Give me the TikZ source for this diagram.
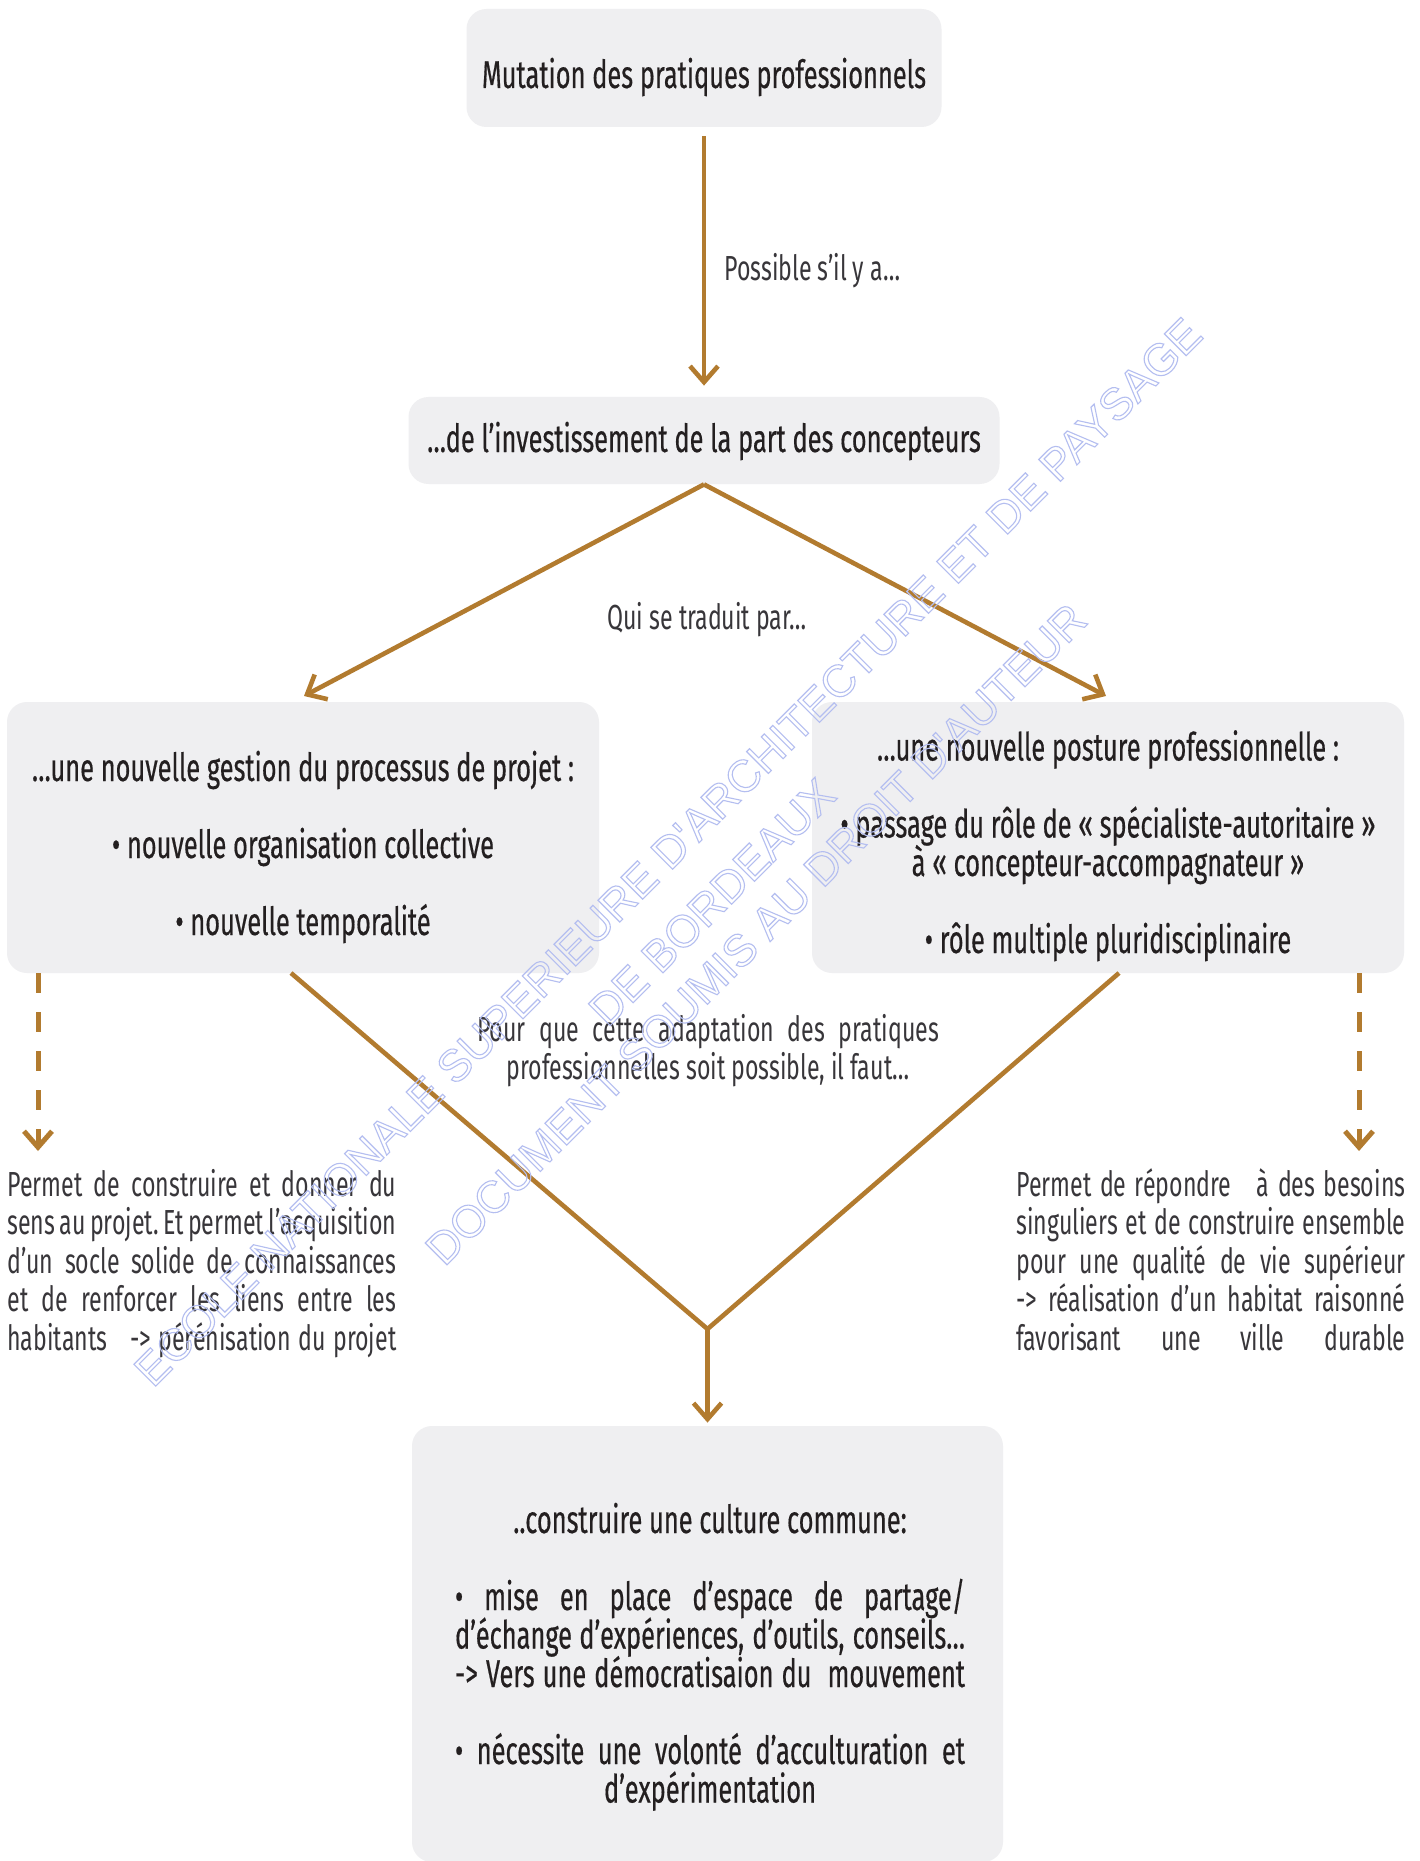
\documentclass[tikz,border=0pt]{standalone}
\usepackage{fontspec}
\setmainfont{Fira Sans}[FakeStretch=0.665]
\newfontfamily\boxfont{Fira Sans}[FakeStretch=0.655,FakeBold=0.4]
\newfontfamily\wmfont{Liberation Sans}
\usetikzlibrary{arrows.meta}
\definecolor{gold}{HTML}{B27B2F}
\definecolor{boxgray}{HTML}{EFEFF1}
\definecolor{ink}{HTML}{231F20}
\definecolor{inklight}{HTML}{38363A}
\definecolor{wm}{HTML}{B4BEF0}
\newlength\blockw
\newcommand\blk[2]{\vtop{\setlength\blockw{#1}\baselineskip=19.25pt\lineskiplimit=-\maxdimen\lineskip=0pt\relax#2}}
\newcommand\fl[1]{\hbox to \blockw{\spaceskip=0.1em plus 1fil\xspaceskip=\spaceskip\relax#1}}
\newcommand\cl[1]{\hbox to \blockw{\hfil#1\hfil}}
\newcommand\el{\hbox{}}
\newcommand\outlined[1]{\special{pdf:literal direct 1 Tr 0.55 w}#1\special{pdf:literal direct 0 Tr}}
\begin{document}
\begin{tikzpicture}[x=0.5pt,y=-0.5pt,
  box/.style={fill=boxgray, rounded corners=10pt, inner sep=0pt},
  boxtext/.style={font=\boxfont\fontsize{19.4}{19.25}\selectfont, text=ink, inner sep=0pt},
  sidetext/.style={font=\fontsize{17.4}{19.25}\selectfont, text=inklight, inner sep=0pt},
  conn/.style={draw=gold, line width=2.3pt},
  arr/.style={conn, -{Straight Barb[length=8pt,width=14pt]}},
  dasharr/.style={arr, line width=2.5pt, dash pattern=on 9.75pt off 9.75pt},
  wmark/.style={font=\wmfont\fontsize{22.4}{22.4}\selectfont, text=wm, rotate=45, inner sep=0pt}
]
\useasboundingbox (0,0) rectangle (1419,1861);
\fill[white] (0,0) rectangle (1419,1861);
% boxes
\node[box, minimum width=237.5pt, minimum height=59pt] (b1) at (704,68) {};
\node[box, minimum width=295.5pt, minimum height=43.5pt] (b2) at (704,440.5) {};
\node[box, minimum width=296pt, minimum height=135.5pt] (bl) at (303,837.5) {};
\node[box, minimum width=296pt, minimum height=135.5pt] (br) at (1108,837.5) {};
\node[box, minimum width=295.5pt, minimum height=218pt] (bb) at (707.5,1644) {};
% box texts
\node[boxtext, anchor=base] (b1t) at (704,88) {Mutation des pratiques professionnels};
\node[boxtext, anchor=base] (b2t) at (704,452) {…de l’investissement de la part des concepteurs};
\node[boxtext, anchor=base] (blt) at (303,781) {\blk{296pt}{\cl{…une nouvelle gestion du processus de projet :}\el\cl{• nouvelle organisation collective}\el\cl{• nouvelle temporalité}}};
\node[boxtext, anchor=base] (brt) at (1108,760.5) {\blk{296pt}{\cl{…une nouvelle posture professionnelle :}\el\cl{• passage du rôle de « spécialiste-autoritaire »}\cl{à « concepteur-accompagnateur »}\el\cl{• rôle multiple pluridisciplinaire}}};
\node[boxtext, anchor=base] (bbt) at (710,1533) {\blk{255pt}{\cl{..construire une culture commune:}\el\fl{• mise en place d’espace de partage/}\fl{d’échange d’expériences, d’outils, conseils…}\fl{-> Vers une démocratisaion du\ \ mouvement}\el\fl{• nécessite une volonté d’acculturation et}\cl{d’expérimentation}}};
% labels
\node[sidetext, anchor=base west] (lpos) at (724,281) {Possible s’il y a…};
\node[sidetext, anchor=base] (lqui) at (707,629) {Qui se traduit par…};
\node[sidetext, anchor=base] (lpour) at (708,1041) {\blk{231pt}{\fl{Pour que cette adaptation des pratiques}\cl{professionnelles soit possible, il faut…}}};
\node[sidetext, anchor=base west] (sl) at (7,1196) {\blk{194.5pt}{\fl{Permet de construire et donner du}\fl{sens au projet. Et permet l’acquisition}\fl{d’un socle solide de connaissances}\fl{et de renforcer les liens entre les}\fl{habitants\ \ \ -> pérénisation du projet}}};
\node[sidetext, anchor=base west] (sr) at (1016,1196) {\blk{194.5pt}{\fl{Permet de répondre\ \ \ à des besoins}\fl{singuliers et de construire ensemble}\fl{pour une qualité de vie supérieur}\fl{-> réalisation d’un habitat raisonné}\fl{favorisant une ville durable}}};
% connectors
\coordinate (tl) at (304,696);
\coordinate (tr) at (1106,696);
\coordinate (vl) at (291,973);
\coordinate (vr) at (1119,973);
\coordinate (apex) at (707.5,1329);
\coordinate (dl) at (38,1151);
\coordinate (dr) at (1359,1151);
\draw[arr, shorten <=4.5pt, shorten >=5.5pt] (b1.south) -- (b2.north);
\draw[arr] (b2.south) -- (tl);
\draw[arr] (b2.south) -- (tr);
\draw[conn, line join=miter] (vl) -- (apex) -- (vr);
\draw[arr, shorten >=1.5pt] (apex) -- (bb.north);
\draw[dasharr] (dl |- bl.south) -- (dl);
\draw[dasharr] (dr |- br.south) -- (dr);
% watermark
\node[wmark] (wm1) at (668,852) {\outlined{ECOLE NATIONALE SUPERIEURE D'ARCHITECTURE ET DE PAYSAGE}};
\node[wmark] (wm2) at (712,902) {\outlined{DE BORDEAUX}};
\node[wmark] (wm3) at (756,934) {\outlined{DOCUMENT SOUMIS AU DROIT D'AUTEUR}};
\end{tikzpicture}
\end{document}
